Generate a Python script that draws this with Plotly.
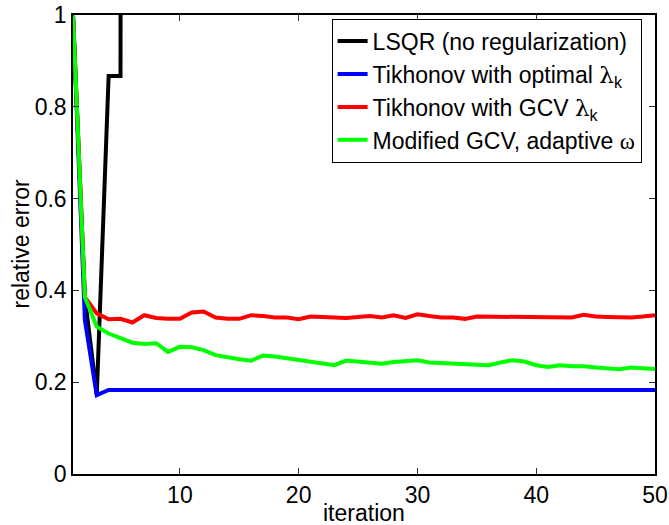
import plotly.graph_objects as go

iterations = list(range(1, 51))

lsqr_iters = [1, 2, 3, 4, 5, 6]
lsqr = [1.0, 0.385, 0.172, 0.867, 0.867, 40.0]

tik_opt = [1.0, 0.335, 0.172] + [0.183] * 47

tik_gcv = [1.0, 0.385, 0.350, 0.337, 0.338, 0.330, 0.346, 0.340, 0.338, 0.338,
           0.352, 0.354, 0.341, 0.338, 0.338, 0.346, 0.344, 0.341, 0.341, 0.337,
           0.343, 0.343, 0.341, 0.340, 0.341, 0.344, 0.341, 0.346, 0.340, 0.348,
           0.344, 0.341, 0.341, 0.338, 0.343, 0.343, 0.343, 0.343, 0.343, 0.343,
           0.341, 0.341, 0.341, 0.347, 0.343, 0.342, 0.341, 0.341, 0.343, 0.346]

mod_gcv = [1.0, 0.385, 0.321, 0.306, 0.296, 0.286, 0.283, 0.285, 0.266, 0.277,
           0.276, 0.270, 0.259, 0.254, 0.250, 0.247, 0.258, 0.256, 0.252, 0.248,
           0.245, 0.241, 0.237, 0.247, 0.245, 0.243, 0.240, 0.244, 0.245, 0.248,
           0.243, 0.242, 0.241, 0.240, 0.239, 0.237, 0.243, 0.248, 0.245, 0.237,
           0.233, 0.237, 0.235, 0.235, 0.232, 0.229, 0.228, 0.232, 0.231, 0.229]

names = [
    "LSQR (no regularization)",
    "Tikhonov with optimal <span style='font-family:DejaVu Serif'>λ</span><sub>k</sub>",
    "Tikhonov with GCV <span style='font-family:DejaVu Serif'>λ</span><sub>k</sub>",
    "Modified GCV, adaptive <span style='font-family:Liberation Serif'>ω</span>",
]
colors = ["#000000", "#0000ff", "#ff0000", "#00ff00"]

x_ticks = [10, 20, 30, 40, 50]
y_ticks = [0, 0.2, 0.4, 0.6, 0.8, 1]
y_ticktext = ["0", "0.2", "0.4", "0.6", "0.8", "1"]

FONT = "Liberation Sans, Arial"

fig = go.Figure()
series = [(lsqr_iters, lsqr), (iterations, tik_opt), (iterations, tik_gcv), (iterations, mod_gcv)]
for (xs, ys), name, c in zip(series, names, colors):
    fig.add_trace(go.Scatter(x=xs, y=ys, mode="lines", name=name,
                             line=dict(color=c, width=4)))

axis_common = dict(showline=True, linecolor="black", linewidth=1.5, mirror="allticks",
                   ticks="inside", ticklen=6, tickcolor="#333333", tickwidth=1,
                   showgrid=False, zeroline=False, automargin=False,
                   tickfont=dict(family=FONT, size=23, color="black"))

fig.update_layout(
    width=669, height=525,
    margin=dict(l=73, r=14, t=15, b=51),
    paper_bgcolor="white", plot_bgcolor="white",
    font=dict(family=FONT, size=23, color="black"),
    xaxis=dict(range=[1, 50], tickvals=x_ticks, **axis_common),
    yaxis=dict(range=[0, 1], tickvals=y_ticks, ticktext=y_ticktext, **axis_common),
    legend=dict(x=0.977, y=0.992, xanchor="right", yanchor="top",
                bgcolor="white", bordercolor="black", borderwidth=1,
                font=dict(family=FONT, size=23), tracegroupgap=0, itemwidth=30),
    showlegend=True,
    annotations=[
        dict(text="iteration", xref="paper", yref="paper", x=0.5, y=0,
             yshift=-39, showarrow=False, xanchor="center", yanchor="middle",
             font=dict(family=FONT, size=23)),
        dict(text="relative error", xref="paper", yref="paper", x=0, y=0.5,
             xshift=-53, showarrow=False, textangle=-90, xanchor="center",
             yanchor="middle", font=dict(family=FONT, size=23)),
    ],
)

fig.write_html("out.html")
